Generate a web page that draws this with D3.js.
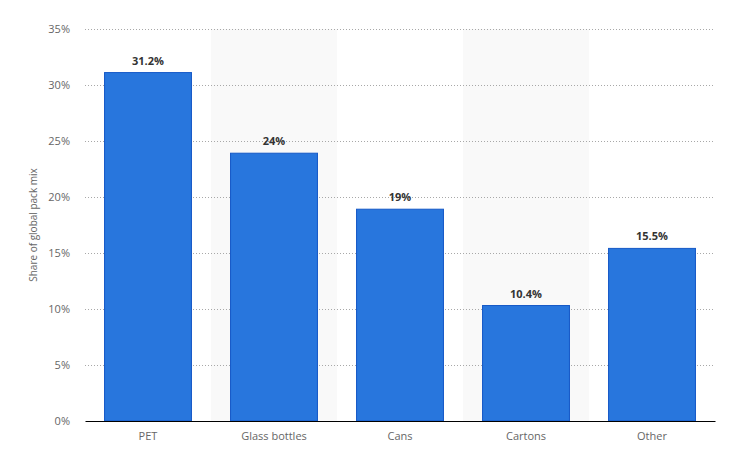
<!DOCTYPE html>
<html>
<head>
<meta charset="utf-8">
<script src="https://cdn.jsdelivr.net/npm/d3@7"></script>
<style>
  body { margin: 0; background: #fff; }
  text { font-family: "Open Sans", "Noto Sans", sans-serif; }
</style>
</head>
<body>
<script>
//Width and height
var w = 729;
var h = 453;

var categories = ["PET", "Glass bottles", "Cans", "Cartons", "Other"];
var shares = [31.2, 24, 19, 10.4, 15.5];
var valueLabels = ["31.2%", "24%", "19%", "10.4%", "15.5%"];
var yTicks = [0, 5, 10, 15, 20, 25, 30, 35];

var margin = { top: 29, right: 14, bottom: 32, left: 85 };
var plotW = w - margin.left - margin.right;
var plotH = h - margin.top - margin.bottom;

var xScale = d3
  .scaleBand()
  .domain(categories)
  .range([0, plotW])
  .paddingInner(0.31)
  .paddingOuter(0.155);

var bandScale = d3.scaleBand().domain(categories).range([0, plotW]);

var yScale = d3.scaleLinear().domain([0, 35]).range([plotH, 0]);

//Create SVG element
var svg = d3.select("body").append("svg").attr("width", w).attr("height", h);
var g = svg
  .append("g")
  .attr("transform", "translate(" + margin.left + "," + margin.top + ")");

//Alternating background bands
g.selectAll("rect.band")
  .data(categories.filter(function (d, i) { return i % 2 === 1; }))
  .enter()
  .append("rect")
  .attr("class", "band")
  .attr("x", function (d) { return bandScale(d); })
  .attr("y", 0)
  .attr("width", bandScale.bandwidth())
  .attr("height", plotH)
  .attr("fill", "#f9f9f9");

//Gridlines
g.selectAll("line.grid")
  .data(yTicks.filter(function (d) { return d > 0; }))
  .enter()
  .append("line")
  .attr("class", "grid")
  .attr("x1", 0)
  .attr("x2", plotW)
  .attr("y1", function (d) { return Math.round(yScale(d)) + 0.5; })
  .attr("y2", function (d) { return Math.round(yScale(d)) + 0.5; })
  .attr("stroke", "#a8a8a8")
  .attr("stroke-width", 1)
  .attr("stroke-dasharray", "1,2");

//Y axis
var yAxis = d3
  .axisLeft(yScale)
  .tickValues(yTicks)
  .tickSize(0)
  .tickPadding(15)
  .tickFormat(function (d) { return d + "%"; });

g.append("g")
  .call(yAxis)
  .call(function (s) { s.select(".domain").remove(); })
  .selectAll("text")
  .attr("fill", "#666")
  .attr("font-size", "11px");

//Bars
g.selectAll("rect.bar")
  .data(shares)
  .enter()
  .append("rect")
  .attr("class", "bar")
  .attr("x", function (d, i) { return xScale(categories[i]); })
  .attr("y", function (d) { return yScale(d) + 1; })
  .attr("width", xScale.bandwidth())
  .attr("height", function (d) { return plotH - yScale(d) - 1; })
  .attr("fill", "#2876dd")
  .attr("stroke", "#1659c7")
  .attr("stroke-width", 1);

//Value labels
g.selectAll("text.value")
  .data(shares)
  .enter()
  .append("text")
  .attr("class", "value")
  .text(function (d, i) { return valueLabels[i]; })
  .attr("text-anchor", "middle")
  .attr("x", function (d, i) { return xScale(categories[i]) + xScale.bandwidth() / 2; })
  .attr("y", function (d) { return yScale(d) - 7; })
  .attr("font-size", "11px")
  .attr("font-weight", "bold")
  .attr("fill", "#333");

//X axis
var xAxis = d3.axisBottom(bandScale).tickSize(0).tickPadding(11);
var xg = g.append("g")
  .attr("transform", "translate(0," + plotH + ")")
  .call(xAxis);
xg.select(".domain").attr("stroke", "#000").attr("stroke-width", 1.2);
xg.selectAll("text").attr("fill", "#666").attr("font-size", "11px");

//Y axis title
svg.append("text")
  .attr("transform", "translate(37," + (margin.top + plotH / 2) + ") rotate(-90)")
  .attr("text-anchor", "middle")
  .attr("font-size", "10px")
  .attr("fill", "#666")
  .text("Share of global pack mix");
</script>
</body>
</html>
